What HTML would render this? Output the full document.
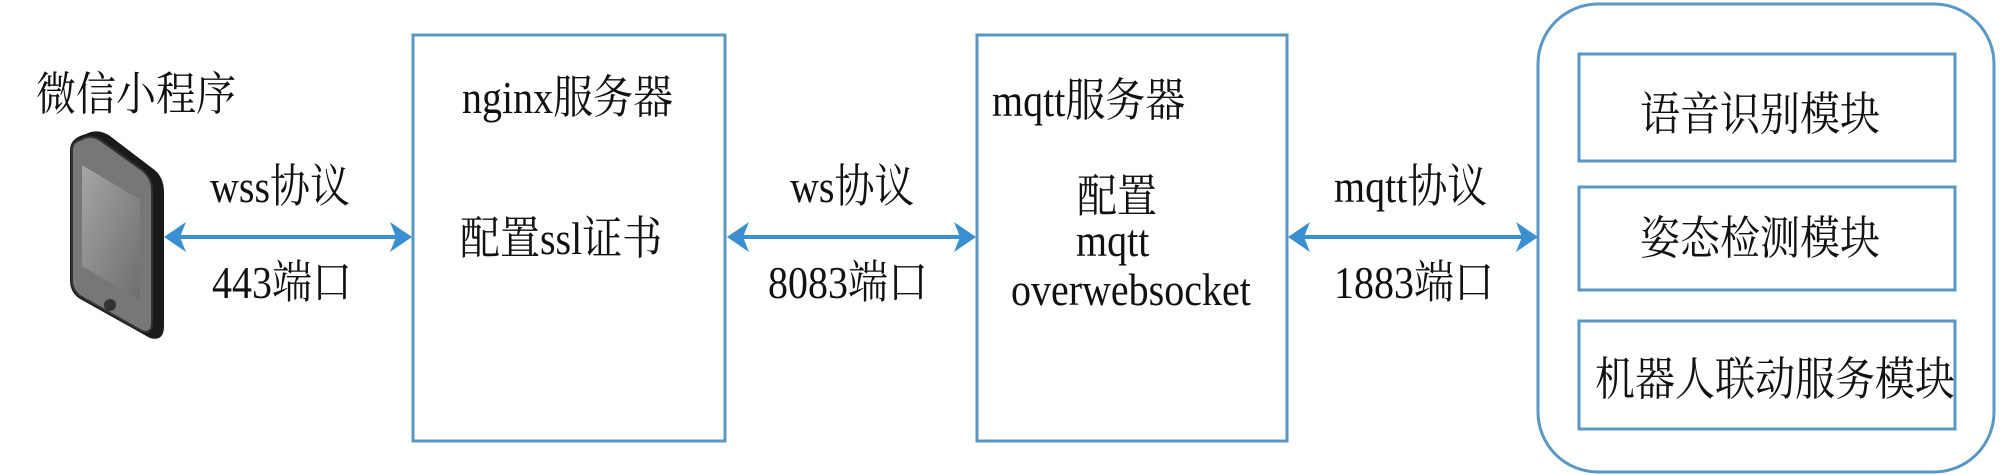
<!DOCTYPE html>
<html><head><meta charset="utf-8"><style>
html,body{margin:0;padding:0;background:#fff;}
svg{display:block;}
text{font-family:"Liberation Serif","Noto Serif CJK SC",serif;font-size:40px;fill:#111;}
</style></head><body>
<svg width="2000" height="475" viewBox="0 0 2000 475" xmlns="http://www.w3.org/2000/svg">
<defs>
<linearGradient id="scr" x1="0" y1="0" x2="1" y2="1"><stop offset="0" stop-color="#a5a5a5"/><stop offset="1" stop-color="#6e6e6e"/></linearGradient>
</defs>
<rect x="413" y="35" width="312" height="406" fill="none" stroke="#5a97c4" stroke-width="3"/>
<rect x="977" y="35" width="310" height="406" fill="none" stroke="#5a97c4" stroke-width="3"/>
<rect x="1538" y="4" width="456" height="468" rx="60" ry="60" fill="none" stroke="#5a97c4" stroke-width="3"/>
<rect x="1579" y="54" width="376" height="107" fill="none" stroke="#5a97c4" stroke-width="3"/>
<rect x="1579" y="187" width="376" height="103" fill="none" stroke="#5a97c4" stroke-width="3"/>
<rect x="1579" y="321" width="376" height="108" fill="none" stroke="#5a97c4" stroke-width="3"/>
<g stroke="#3a8fd0" stroke-width="4" fill="#3a8fd0">
<line x1="175" y1="237" x2="400" y2="237"/>
<line x1="738" y1="237" x2="964" y2="237"/>
<line x1="1299" y1="237" x2="1526" y2="237"/>
</g>
<g fill="#3a8fd0">
<polygon points="164,237 186,222 180,237 186,252"/>
<polygon points="412,237 390,222 396,237 390,252"/>
<polygon points="727,237 749,222 743,237 749,252"/>
<polygon points="976,237 954,222 960,237 954,252"/>
<polygon points="1288,237 1310,222 1304,237 1310,252"/>
<polygon points="1538,237 1516,222 1522,237 1516,252"/>
</g>
<g>
<path d="M86,134 Q98,128 110,136 L152,168 Q164,176 164,192 L164,326 Q164,342 150,338 L82,300 Q70,294 70,280 L70,150 Q70,138 86,134 Z" fill="#1a1a1a"/>
<path d="M80,140 Q90,134 100,140 L142,170 Q152,178 152,190 L152,322 Q152,336 140,330 L80,296 Q72,290 72,280 L72,150 Q72,142 80,140 Z" fill="#777" stroke="#333" stroke-width="2"/>
<path d="M82,165 L140,200 L140,300 L82,266 Z" fill="url(#scr)"/>
<circle cx="110" cy="305" r="6" fill="#333"/>
</g>
<text transform="translate(36,110) scale(1,1.15)">微信小程序</text>
<text transform="translate(210,202) scale(1,1.15)">wss协议</text>
<text transform="translate(212,298) scale(1,1.15)">443端口</text>
<text transform="translate(462,113) scale(1,1.15)">nginx服务器</text>
<text transform="translate(460,254) scale(1,1.15)">配置ssl证书</text>
<text transform="translate(790,202) scale(1,1.15)">ws协议</text>
<text transform="translate(768,298) scale(1,1.15)">8083端口</text>
<text transform="translate(992,116) scale(1,1.15)">mqtt服务器</text>
<text transform="translate(1077,212) scale(1,1.15)">配置</text>
<text transform="translate(1076,256) scale(1,1.15)">mqtt</text>
<text transform="translate(1011,305) scale(1,1.15)">overwebsocket</text>
<text transform="translate(1334,202) scale(1,1.15)">mqtt协议</text>
<text transform="translate(1334,298) scale(1,1.15)">1883端口</text>
<text transform="translate(1640,130) scale(1,1.15)">语音识别模块</text>
<text transform="translate(1640,254) scale(1,1.15)">姿态检测模块</text>
<text transform="translate(1595,395) scale(1,1.15)">机器人联动服务模块</text>
</svg>
</body></html>
